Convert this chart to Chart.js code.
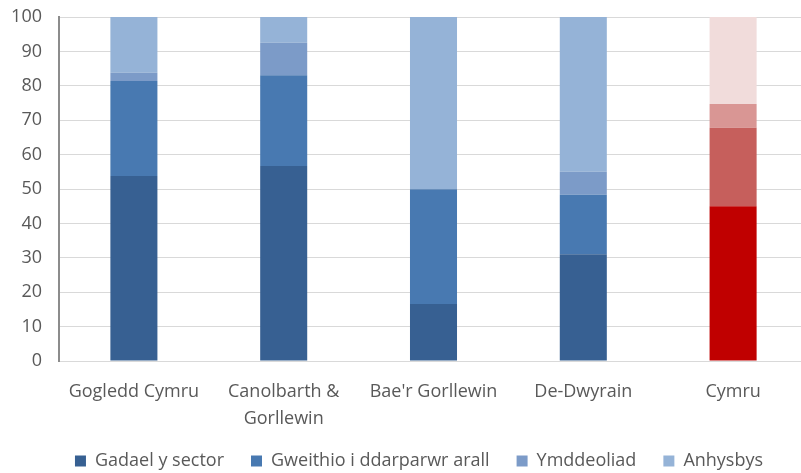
<!DOCTYPE html>
<html>
<head>
<meta charset="utf-8">
<script src="https://cdn.jsdelivr.net/npm/chart.js@4/dist/chart.umd.min.js"></script>
<style>
html,body{margin:0;padding:0;background:#fff;overflow:hidden;}
#wrap{width:808px;height:473px;}
</style>
</head>
<body>
<div id="wrap"><canvas id="c" width="808" height="473"></canvas></div>
<script>
const categories = [["Gogledd Cymru"], ["Canolbarth &", "Gorllewin"], ["Bae'r Gorllewin"], ["De-Dwyrain"], ["Cymru"]];
const seriesNames = ["Gadael y sector", "Gweithio i ddarparwr arall", "Ymddeoliad", "Anhysbys"];
const gadael = [53.8, 56.7, 16.6, 31.0, 45.0];
const gweithio = [27.6, 26.4, 33.3, 17.3, 22.8];
const ymddeoliad = [2.4, 9.4, 0, 6.7, 6.9];
const anhysbys = [16.2, 7.5, 50.1, 45.0, 25.3];
const yTicks = [0, 10, 20, 30, 40, 50, 60, 70, 80, 90, 100];

const blues = ["#376092", "#4879b1", "#7c9bc8", "#95b3d7"];
const reds = ["#c00000", "#c65f5c", "#d99694", "#f1dcdb"];
const values = [gadael, gweithio, ymddeoliad, anhysbys];

const datasets = values.map((v, i) => ({
  label: seriesNames[i],
  data: v,
  backgroundColor: ctx => (ctx.type === 'data' && ctx.dataIndex === 4) ? reds[i] : blues[i],
  borderWidth: 0,
  categoryPercentage: 1,
  barPercentage: 0.314
}));

const FONT = "'Open Sans', sans-serif";
const legendShift = {
  id: 'legendShift',
  afterLayout(chart) {
    if (chart.legend) { chart.legend.left += 15; chart.legend.right += 15; }
  }
};
new Chart(document.getElementById('c'), {
  type: 'bar',
  data: { labels: categories, datasets },
  plugins: [legendShift],
  options: {
    responsive: false,
    animation: false,
    layout: { padding: { top: 0, left: 0, right: 0, bottom: -7 } },
    plugins: {
      legend: {
        position: 'bottom',
        labels: { boxWidth: 11, boxHeight: 11, color: '#595959', font: { family: FONT, size: 18 }, padding: 27 }
      },
      tooltip: { enabled: false }
    },
    scales: {
      x: {
        stacked: true,
        grid: { display: false, drawTicks: false },
        border: { color: '#d9d9d9', width: 1 },
        ticks: { color: '#595959', font: { family: FONT, size: 18, lineHeight: 1.5 }, padding: 17, maxRotation: 0, autoSkip: false },
        afterFit: s => { s.height = 64; }
      },
      y: {
        stacked: true,
        min: 0, max: 100,
        afterBuildTicks: axis => { axis.ticks = yTicks.map(v => ({ value: v })); },
        grid: { color: '#d9d9d9', lineWidth: 1, drawTicks: false },
        border: { color: '#8c8c8c', width: 2 },
        ticks: { color: '#595959', font: { family: FONT, size: 18 }, padding: 17 },
        afterFit: s => { s.width = 59; s.paddingTop = 17; }
      }
    }
  }
});
</script>
</body>
</html>
